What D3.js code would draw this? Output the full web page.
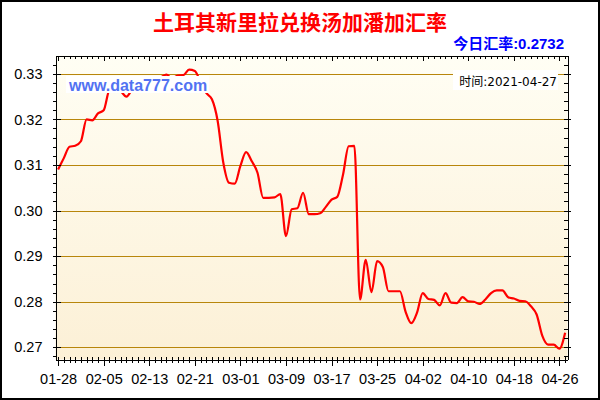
<!DOCTYPE html>
<html>
<head>
<meta charset="utf-8">
<script src="https://cdn.jsdelivr.net/npm/d3@7"></script>
<style>
  body { margin: 0; background: #fff; }
  svg { display: block; }
</style>
</head>
<body>
<div id="chart"></div>
<script>
// daily rates from 2021-01-28 to 2021-04-27
const startDay = "2021-01-28";
const rates = [
  0.3090, 0.3115, 0.3140, 0.3142, 0.3152, 0.3200, 0.3198, 0.3213, 0.3220, 0.3265,
  0.3272, 0.3262, 0.3250, 0.3266, 0.3280, 0.3285, 0.3288, 0.3288, 0.3292, 0.3298,
  0.3290, 0.3296, 0.3297, 0.3309, 0.3306, 0.3282, 0.3258, 0.3244, 0.3197, 0.3105,
  0.3061, 0.3059, 0.3098, 0.3128, 0.3108, 0.3083, 0.3028, 0.3028, 0.3029, 0.3036,
  0.2944, 0.3003, 0.3005, 0.3039, 0.2992, 0.2992, 0.2994, 0.3008, 0.3024, 0.3030,
  0.3078, 0.3141, 0.3142, 0.2805, 0.2892, 0.2821, 0.2889, 0.2876, 0.2823, 0.2823,
  0.2823, 0.2778, 0.2753, 0.2776, 0.2819, 0.2806, 0.2804, 0.2792, 0.2819, 0.2798,
  0.2797, 0.2810, 0.2801, 0.2800, 0.2795, 0.2805, 0.2819, 0.2825, 0.2825, 0.2810,
  0.2807, 0.2802, 0.2801, 0.2790, 0.2772, 0.2725, 0.2706, 0.2706, 0.2697, 0.2732
];
const xTickLabels = ["01-28", "02-05", "02-13", "02-21", "03-01", "03-09",
                     "03-17", "03-25", "04-02", "04-10", "04-18", "04-26"];
const yTicks = [0.27, 0.28, 0.29, 0.30, 0.31, 0.32, 0.33];

const titleText = "土耳其新里拉兑换汤加潘加汇率";
const todayText = "今日汇率:0.2732";
const timeText = "时间:2021-04-27";
const siteText = "www.data777.com";

const width = 600, height = 400;
const plot = { left: 55.5, right: 567.5, top: 55.5, bottom: 359.5 };
const latin = "'Liberation Sans', Arial, 'Noto Sans CJK SC', sans-serif";

const parseDay = d3.timeParse("%Y-%m-%d");
const start = parseDay(startDay);
const data = rates.map((v, i) => ({ date: d3.timeDay.offset(start, i), value: v }));
const allDays = data.map(d => d.date);
const tickDays = xTickLabels.map(s => parseDay("2021-" + s));

const x = d3.scaleTime()
    .domain([d3.timeHour.offset(start, -10.5), d3.timeHour.offset(allDays[allDays.length - 1], 10)])
    .range([plot.left, plot.right]);
const y = d3.scaleLinear()
    .domain([0.26733, 0.33401])
    .range([plot.bottom, plot.top]);

const svg = d3.select("#chart").append("svg")
    .attr("width", width)
    .attr("height", height);

// outer frame
svg.append("rect")
    .attr("x", 1).attr("y", 1)
    .attr("width", width - 2).attr("height", height - 2)
    .attr("fill", "#fff")
    .attr("stroke", "#000")
    .attr("stroke-width", 2);

// plot background
const grad = svg.append("defs").append("linearGradient")
    .attr("id", "bg").attr("x1", 0).attr("y1", 0).attr("x2", 0).attr("y2", 1);
grad.append("stop").attr("offset", "0%").attr("stop-color", "#fffef4");
grad.append("stop").attr("offset", "100%").attr("stop-color", "#fcf0d6");

svg.select("defs").append("clipPath").attr("id", "clip")
  .append("rect")
    .attr("x", plot.left).attr("y", plot.top)
    .attr("width", plot.right - plot.left).attr("height", plot.bottom - plot.top);

svg.append("rect")
    .attr("x", plot.left).attr("y", plot.top)
    .attr("width", plot.right - plot.left).attr("height", plot.bottom - plot.top)
    .attr("fill", "url(#bg)");

// grid lines
svg.append("g")
    .attr("transform", `translate(${plot.left},0)`)
    .attr("shape-rendering", "crispEdges")
    .call(d3.axisLeft(y).tickValues(yTicks).tickSize(-(plot.right - plot.left)).tickFormat(""))
    .call(g => g.select(".domain").remove())
    .call(g => g.selectAll(".tick line").attr("stroke", "#b8860b"));

// title
svg.append("text")
    .attr("x", 300).attr("y", 30)
    .attr("text-anchor", "middle")
    .attr("font-family", latin)
    .attr("font-size", "21px")
    .attr("font-weight", "bold")
    .attr("fill", "#ff0000")
    .text(titleText);

svg.append("text")
    .attr("x", 564).attr("y", 49)
    .attr("text-anchor", "end")
    .attr("font-family", latin)
    .attr("font-size", "15px")
    .attr("font-weight", "bold")
    .attr("fill", "#0000ff")
    .text(todayText);

// rate line
svg.append("path")
    .datum(data)
    .attr("clip-path", "url(#clip)")
    .attr("fill", "none")
    .attr("stroke", "#ff0000")
    .attr("stroke-width", 2.2)
    .attr("stroke-linejoin", "round")
    .attr("d", d3.line()
        .x(d => x(d.date))
        .y(d => y(d.value))
        .curve(d3.curveMonotoneX));

// watermark
svg.append("rect")
    .attr("x", 66).attr("y", 76).attr("width", 143).attr("height", 17)
    .attr("fill", "#fff");
svg.append("text")
    .attr("x", 69).attr("y", 90.5)
    .attr("font-family", latin)
    .attr("font-size", "16px")
    .attr("font-weight", "bold")
    .attr("fill", "#5272f2")
    .text(siteText);

// time stamp
svg.append("rect")
    .attr("x", 453).attr("y", 70).attr("width", 105).attr("height", 20)
    .attr("fill", "#fff");
svg.append("text")
    .attr("x", 557).attr("y", 86)
    .attr("text-anchor", "end")
    .attr("font-family", "'DejaVu Sans', 'Noto Sans CJK SC', sans-serif")
    .attr("font-size", "12px")
    .attr("fill", "#000")
    .text(timeText);

// axes
function blackAxis(g) {
    g.attr("shape-rendering", "crispEdges");
    g.select(".domain").attr("stroke", "#000");
    g.selectAll(".tick line").attr("stroke", "#000");
    g.selectAll(".tick text")
        .attr("font-family", latin)
        .attr("font-size", "14.5px")
        .attr("fill", "#000");
}

const yMinor = d3.range(134, 167).map(k => k * 0.002);

// bottom
svg.append("g")
    .attr("transform", `translate(0,${plot.bottom})`)
    .call(d3.axisBottom(x).tickValues(allDays).tickSize(3).tickSizeOuter(0).tickFormat(""))
    .call(blackAxis)
    .call(g => g.selectAll(".tick line").attr("y1", -3));
svg.append("g")
    .attr("transform", `translate(0,${plot.bottom})`)
    .call(d3.axisBottom(x).tickValues(tickDays).tickSize(6).tickSizeOuter(0).tickPadding(8)
        .tickFormat(d3.timeFormat("%m-%d")))
    .call(blackAxis)
    .call(g => g.selectAll(".tick line").attr("y1", -3));

// top
svg.append("g")
    .attr("transform", `translate(0,${plot.top})`)
    .call(d3.axisBottom(x).tickValues(allDays).tickSize(3).tickSizeOuter(0).tickFormat(""))
    .call(blackAxis);
svg.append("g")
    .attr("transform", `translate(0,${plot.top})`)
    .call(d3.axisBottom(x).tickValues(tickDays).tickSize(5).tickSizeOuter(0).tickFormat(""))
    .call(blackAxis);

// left
svg.append("g")
    .attr("transform", `translate(${plot.left},0)`)
    .call(d3.axisLeft(y).tickValues(yMinor).tickSize(3).tickSizeOuter(0).tickFormat(""))
    .call(blackAxis);
svg.append("g")
    .attr("transform", `translate(${plot.left},0)`)
    .call(d3.axisLeft(y).tickValues(yTicks).tickSize(5).tickSizeOuter(0).tickPadding(8)
        .tickFormat(d3.format(".2f")))
    .call(blackAxis)
    .call(g => g.selectAll(".tick line").attr("x2", 5));

// right
svg.append("g")
    .attr("transform", `translate(${plot.right},0)`)
    .call(d3.axisLeft(y).tickValues(yMinor).tickSize(4).tickSizeOuter(0).tickFormat(""))
    .call(blackAxis);
svg.append("g")
    .attr("transform", `translate(${plot.right},0)`)
    .call(d3.axisLeft(y).tickValues(yTicks).tickSize(5).tickSizeOuter(0).tickFormat(""))
    .call(blackAxis)
    .call(g => g.selectAll(".tick line").attr("x2", 3));
</script>
</body>
</html>
